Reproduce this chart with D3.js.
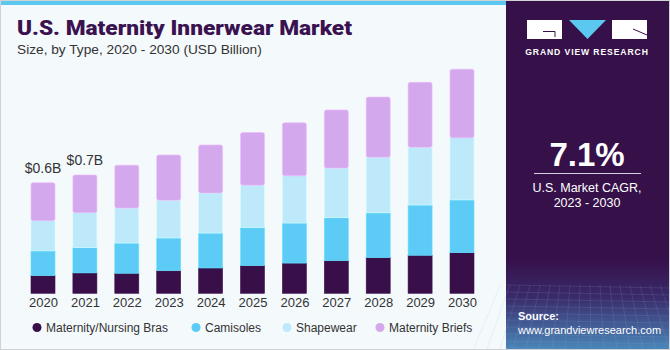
<!DOCTYPE html>
<html>
<head>
<meta charset="utf-8">
<script src="https://cdn.jsdelivr.net/npm/d3@7"></script>
<style>
  body { margin: 0; padding: 0; background: #fff; }
  svg { display: block; font-family: "Liberation Sans", Arial, sans-serif; }
</style>
</head>
<body>
<div id="chart"></div>
<script>
// U.S. Maternity Innerwear Market chart

var years = ["2020", "2021", "2022", "2023", "2024", "2025", "2026", "2027", "2028", "2029", "2030"];
var seriesNames = ["Maternity/Nursing Bras", "Camisoles", "Shapewear", "Maternity Briefs"];
var bras      = [0.097, 0.112, 0.110, 0.124, 0.139, 0.152, 0.166, 0.179, 0.196, 0.209, 0.223];
var camisoles = [0.136, 0.139, 0.166, 0.180, 0.192, 0.209, 0.220, 0.236, 0.246, 0.276, 0.290];
var shapewear = [0.166, 0.192, 0.192, 0.207, 0.220, 0.233, 0.260, 0.273, 0.306, 0.317, 0.342];
var briefs    = [0.209, 0.207, 0.236, 0.249, 0.264, 0.289, 0.291, 0.319, 0.330, 0.357, 0.376];
var totalLabels = ["$0.6B", "$0.7B"];
var colors = ["#380f49", "#5ccbf6", "#bde9fa", "#d4a8ec"];

(function () {
    const W = 670, H = 350;
    const svg = d3.select("#chart").append("svg")
        .attr("width", W).attr("height", H);

    // backgrounds
    svg.append("rect").attr("x", 0.5).attr("y", 0.5).attr("width", W - 1).attr("height", H - 1)
        .attr("fill", "#f4f9fc").attr("stroke", "#cfd3d6");
    svg.append("rect").attr("x", 1).attr("y", 1).attr("width", 505).attr("height", 4).attr("fill", "#5bc8f0");

    // right panel
    const defs = svg.append("defs");
    const grad = defs.append("linearGradient").attr("id", "pg").attr("x1", 0).attr("y1", 0).attr("x2", 0).attr("y2", 1);
    grad.append("stop").attr("offset", "0").attr("stop-color", "#361049");
    grad.append("stop").attr("offset", "0.74").attr("stop-color", "#361049");
    grad.append("stop").attr("offset", "0.85").attr("stop-color", "#3a2a6a");
    grad.append("stop").attr("offset", "1").attr("stop-color", "#4a86b8");
    svg.append("rect").attr("x", 506).attr("y", 1).attr("width", 163).attr("height", H - 2).attr("fill", "url(#pg)");

    // faint grid at panel bottom
    const grid = svg.append("g").attr("stroke", "#8fb4dc").attr("stroke-opacity", 0.25).attr("stroke-width", 0.6);
    for (let gy = 285; gy < 349; gy += 7) {
        grid.append("line").attr("x1", 506).attr("x2", 669).attr("y1", gy).attr("y2", gy + 3);
    }
    for (let gx = 500; gx < 680; gx += 10) {
        grid.append("line").attr("x1", gx).attr("x2", gx + (gx - 587) * 0.3).attr("y1", 285).attr("y2", 349);
    }

    // logo
    const logo = svg.append("g");
    logo.append("rect").attr("x", 527).attr("y", 20).attr("width", 35).attr("height", 19).attr("fill", "#fff");
    logo.append("path").attr("d", "M543,31.5 H555 V37").attr("fill", "none").attr("stroke", "#361049").attr("stroke-width", 1);
    logo.append("path").attr("d", "M569,20 L606,20 L587.5,39 Z").attr("fill", "#5bc8f0");
    logo.append("rect").attr("x", 612).attr("y", 20).attr("width", 35).attr("height", 19).attr("fill", "#fff");
    logo.append("path").attr("d", "M633,29 L647,35").attr("fill", "none").attr("stroke", "#361049").attr("stroke-width", 1);
    svg.append("text").attr("x", 587).attr("y", 55).attr("text-anchor", "middle")
        .attr("fill", "#fff").attr("font-size", "8.6px").attr("font-weight", "bold").attr("letter-spacing", "0.9px")
        .text("GRAND VIEW RESEARCH");

    svg.append("text").attr("x", 587).attr("y", 166).attr("text-anchor", "middle")
        .attr("fill", "#fff").attr("font-size", "33px").attr("font-weight", "bold").text("7.1%");
    svg.append("line").attr("x1", 534).attr("x2", 641).attr("y1", 173.5).attr("y2", 173.5)
        .attr("stroke", "#d8d0e0").attr("stroke-width", 1);
    svg.append("text").attr("x", 587).attr("y", 192).attr("text-anchor", "middle")
        .attr("fill", "#fff").attr("font-size", "12.5px").text("U.S. Market CAGR,");
    svg.append("text").attr("x", 587).attr("y", 207).attr("text-anchor", "middle")
        .attr("fill", "#fff").attr("font-size", "12.5px").text("2023 - 2030");
    svg.append("text").attr("x", 518).attr("y", 320)
        .attr("fill", "#fff").attr("font-size", "11px").attr("font-weight", "bold").text("Source:");
    svg.append("text").attr("x", 518).attr("y", 334)
        .attr("fill", "#fff").attr("font-size", "11px").text("www.grandviewresearch.com");

    // titles
    svg.append("text").attr("x", 17).attr("y", 35)
        .attr("fill", "#3a1250").attr("font-size", "20px").attr("font-weight", "900")
        .attr("textLength", 335).attr("lengthAdjust", "spacingAndGlyphs")
        .style("font-family", "Roboto, 'Liberation Sans', sans-serif")
        .text("U.S. Maternity Innerwear Market");
    svg.append("text").attr("x", 17).attr("y", 54)
        .attr("fill", "#333").attr("font-size", "13.7px")
        .text("Size, by Type, 2020 - 2030 (USD Billion)");

    // scales
    const x = d3.scalePoint().domain(years).range([43, 462]);
    const barW = 24;
    const y = d3.scaleLinear().domain([0, 1.2]).range([293.3, 293.3 - 218.4]);

    const table = years.map((yr, i) => ({
        year: yr, bras: bras[i], camisoles: camisoles[i], shapewear: shapewear[i], briefs: briefs[i]
    }));
    const keys = ["bras", "camisoles", "shapewear", "briefs"];
    const stacked = d3.stack().keys(keys)(table);

    const g = svg.append("g");
    stacked.forEach(function (layer, li) {
        g.selectAll(null).data(layer).enter().append("rect")
            .attr("x", d => x(d.data.year) - barW / 2)
            .attr("y", d => y(d[1]))
            .attr("width", barW)
            .attr("height", d => y(d[0]) - y(d[1]))
            .attr("rx", li === 3 ? 2 : 0)
            .attr("fill", colors[li])
            .attr("stroke", d3.color(colors[li]).brighter(0.3))
            .attr("stroke-width", 0.6);
    });

    // axis
    const xAxis = d3.axisBottom(x).tickSize(0).tickPadding(4);
    const ax = svg.append("g").attr("transform", "translate(0,293.3)").call(xAxis);
    ax.select(".domain").remove();
    ax.selectAll("text").attr("font-size", "13px").attr("fill", "#333")
        .style("font-family", "'Liberation Sans', Arial, sans-serif");

    // total labels
    totalLabels.forEach(function (lbl, i) {
        const tot = bras[i] + camisoles[i] + shapewear[i] + briefs[i];
        svg.append("text").attr("x", x(years[i])).attr("y", y(tot) - 10)
            .attr("text-anchor", "middle").attr("font-size", "14px").attr("fill", "#333").text(lbl);
    });

    // legend
    const legX = [37, 196, 287, 380];
    const leg = svg.append("g");
    seriesNames.forEach(function (n, i) {
        leg.append("circle").attr("cx", legX[i]).attr("cy", 327.5).attr("r", 4.5).attr("fill", colors[i]);
        leg.append("text").attr("x", legX[i] + 9).attr("y", 332).attr("font-size", "12px").attr("fill", "#333").text(n);
    });
})();
</script>
</body>
</html>
